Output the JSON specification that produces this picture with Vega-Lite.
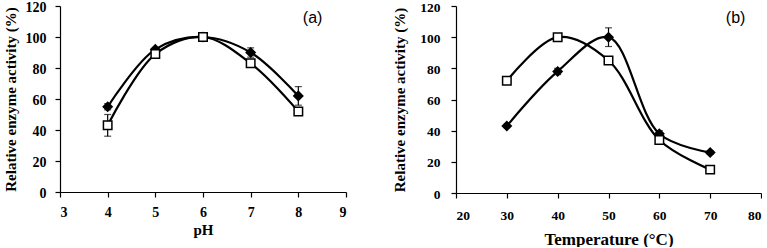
{
  "$schema": "https://vega.github.io/schema/vega-lite/v6.json",
  "background": "white",
  "padding": {"left": 2, "top": 0, "right": 0, "bottom": 0},
  "spacing": 110,
  "bounds": "flush",
  "config": {
    "view": {"stroke": null},
    "axis": {
      "grid": false,
      "domainColor": "black",
      "domainWidth": 1.2,
      "tickColor": "black",
      "tickWidth": 1.2,
      "tickSize": 5,
      "labelOverlap": false,
      "labelFont": "Liberation Serif",
      "labelFontWeight": "bold",
      "labelFontSize": 14,
      "labelColor": "black",
      "titleFont": "Liberation Serif",
      "titleFontWeight": "bold",
      "titleColor": "black"
    }
  },
  "datasets": {
    "ph": [
      {"x": 4, "y": 55, "lo": 53, "hi": 57, "s": "A"},
      {"x": 5, "y": 92, "lo": 91, "hi": 93, "s": "A"},
      {"x": 6, "y": 100, "lo": 100, "hi": 100, "s": "A"},
      {"x": 7, "y": 90, "lo": 87, "hi": 93, "s": "A"},
      {"x": 8, "y": 62, "lo": 56, "hi": 68, "s": "A"},
      {"x": 4, "y": 43, "lo": 36, "hi": 50, "s": "B"},
      {"x": 5, "y": 89, "lo": 88, "hi": 90, "s": "B"},
      {"x": 6, "y": 100, "lo": 100, "hi": 100, "s": "B"},
      {"x": 7, "y": 83, "lo": 82, "hi": 84, "s": "B"},
      {"x": 8, "y": 52, "lo": 51, "hi": 53, "s": "B"}
    ],
    "temp": [
      {"x": 30, "y": 43, "lo": 42, "hi": 44, "s": "A"},
      {"x": 40, "y": 78, "lo": 76, "hi": 80, "s": "A"},
      {"x": 50, "y": 100, "lo": 94, "hi": 106, "s": "A"},
      {"x": 60, "y": 38, "lo": 36, "hi": 40, "s": "A"},
      {"x": 70, "y": 26, "lo": 25, "hi": 27, "s": "A"},
      {"x": 30, "y": 72, "lo": 70, "hi": 74, "s": "B"},
      {"x": 40, "y": 100, "lo": 98, "hi": 102, "s": "B"},
      {"x": 50, "y": 85, "lo": 84, "hi": 86, "s": "B"},
      {"x": 60, "y": 34, "lo": 33, "hi": 35, "s": "B"},
      {"x": 70, "y": 15, "lo": 12.5, "hi": 17.5, "s": "B"}
    ],
    "labA": [{"x": 8.3, "y": 112.5, "t": "(a)"}],
    "labB": [{"x": 75, "y": 112, "t": "(b)"}]
  },
  "hconcat": [
    {
      "width": 286,
      "height": 186,
      "layer": [
        {
          "data": {"name": "ph"},
          "mark": {"type": "line", "interpolate": "catmull-rom", "color": "black", "strokeWidth": 2.2},
          "encoding": {
            "x": {"field": "x", "type": "quantitative", "scale": {"domain": [3, 9], "nice": false, "zero": false},
              "axis": {"values": [3, 4, 5, 6, 7, 8, 9], "tickCount": 7, "labelOverlap": false, "title": "pH", "titleFontSize": 15, "titleY": 37, "titleBaseline": "middle", "labelPadding": 8}},
            "y": {"field": "y", "type": "quantitative", "scale": {"domain": [0, 120], "nice": false},
              "axis": {"values": [0, 20, 40, 60, 80, 100, 120], "tickCount": 7, "labelOverlap": false, "labelOffset": 1, "title": "Relative enzyme activity (%)", "titleFontSize": 15, "titleX": -50, "titleBaseline": "middle", "labelPadding": 9}},
            "detail": {"field": "s"}
          }
        },
        {
          "data": {"name": "ph"},
          "transform": [{"filter": "datum.hi > datum.lo"}],
          "mark": {"type": "rule", "color": "black", "strokeWidth": 1.2},
          "encoding": {
            "x": {"field": "x", "type": "quantitative"},
            "y": {"field": "lo", "type": "quantitative"},
            "y2": {"field": "hi"}
          }
        },
        {
          "data": {"name": "ph"},
          "transform": [{"filter": "datum.hi > datum.lo"}],
          "mark": {"type": "tick", "orient": "horizontal", "color": "black", "size": 7, "thickness": 1.2},
          "encoding": {
            "x": {"field": "x", "type": "quantitative"},
            "y": {"field": "lo", "type": "quantitative"}
          }
        },
        {
          "data": {"name": "ph"},
          "transform": [{"filter": "datum.hi > datum.lo"}],
          "mark": {"type": "tick", "orient": "horizontal", "color": "black", "size": 7, "thickness": 1.2},
          "encoding": {
            "x": {"field": "x", "type": "quantitative"},
            "y": {"field": "hi", "type": "quantitative"}
          }
        },
        {
          "data": {"name": "ph"},
          "mark": {"type": "point", "filled": true, "stroke": "black", "strokeWidth": 1.5, "opacity": 1},
          "encoding": {
            "x": {"field": "x", "type": "quantitative"},
            "y": {"field": "y", "type": "quantitative"},
            "shape": {"field": "s", "type": "nominal", "scale": {"domain": ["A", "B"], "range": ["diamond", "square"]}, "legend": null},
            "fill": {"field": "s", "type": "nominal", "scale": {"domain": ["A", "B"], "range": ["black", "white"]}, "legend": null},
            "size": {"field": "s", "type": "nominal", "scale": {"domain": ["A", "B"], "range": [80, 72]}, "legend": null}
          }
        },
        {
          "data": {"name": "labA"},
          "mark": {"type": "text", "font": "Liberation Sans", "fontSize": 16, "color": "black", "baseline": "middle", "align": "center"},
          "encoding": {
            "x": {"field": "x", "type": "quantitative"},
            "y": {"field": "y", "type": "quantitative"},
            "text": {"field": "t"}
          }
        }
      ]
    },
    {
      "width": 305,
      "height": 187,
      "layer": [
        {
          "data": {"name": "temp"},
          "mark": {"type": "line", "interpolate": "catmull-rom", "color": "black", "strokeWidth": 2.2},
          "encoding": {
            "x": {"field": "x", "type": "quantitative", "scale": {"domain": [20, 80], "nice": false, "zero": false},
              "axis": {"values": [20, 30, 40, 50, 60, 70, 80], "tickCount": 7, "labelOverlap": false, "title": "Temperature (°C)", "titleFontSize": 17, "titleY": 46, "titleBaseline": "middle", "labelPadding": 10, "labelFontSize": 13.5}},
            "y": {"field": "y", "type": "quantitative", "scale": {"domain": [0, 120], "nice": false},
              "axis": {"values": [0, 20, 40, 60, 80, 100, 120], "tickCount": 7, "labelOverlap": false, "labelOffset": 1, "title": "Relative enzyme activity (%)", "titleFontSize": 15, "titleX": -57, "titleBaseline": "middle", "labelPadding": 11, "labelFontSize": 13.5}},
            "detail": {"field": "s"}
          }
        },
        {
          "data": {"name": "temp"},
          "transform": [{"filter": "datum.hi > datum.lo"}],
          "mark": {"type": "rule", "color": "black", "strokeWidth": 1.2},
          "encoding": {
            "x": {"field": "x", "type": "quantitative"},
            "y": {"field": "lo", "type": "quantitative"},
            "y2": {"field": "hi"}
          }
        },
        {
          "data": {"name": "temp"},
          "transform": [{"filter": "datum.hi > datum.lo"}],
          "mark": {"type": "tick", "orient": "horizontal", "color": "black", "size": 7, "thickness": 1.2},
          "encoding": {
            "x": {"field": "x", "type": "quantitative"},
            "y": {"field": "lo", "type": "quantitative"}
          }
        },
        {
          "data": {"name": "temp"},
          "transform": [{"filter": "datum.hi > datum.lo"}],
          "mark": {"type": "tick", "orient": "horizontal", "color": "black", "size": 7, "thickness": 1.2},
          "encoding": {
            "x": {"field": "x", "type": "quantitative"},
            "y": {"field": "hi", "type": "quantitative"}
          }
        },
        {
          "data": {"name": "temp"},
          "mark": {"type": "point", "filled": true, "stroke": "black", "strokeWidth": 1.5, "opacity": 1},
          "encoding": {
            "x": {"field": "x", "type": "quantitative"},
            "y": {"field": "y", "type": "quantitative"},
            "shape": {"field": "s", "type": "nominal", "scale": {"domain": ["A", "B"], "range": ["diamond", "square"]}, "legend": null},
            "fill": {"field": "s", "type": "nominal", "scale": {"domain": ["A", "B"], "range": ["black", "white"]}, "legend": null},
            "size": {"field": "s", "type": "nominal", "scale": {"domain": ["A", "B"], "range": [80, 72]}, "legend": null}
          }
        },
        {
          "data": {"name": "labB"},
          "mark": {"type": "text", "font": "Liberation Sans", "fontSize": 16, "color": "black", "baseline": "middle", "align": "center"},
          "encoding": {
            "x": {"field": "x", "type": "quantitative"},
            "y": {"field": "y", "type": "quantitative"},
            "text": {"field": "t"}
          }
        }
      ]
    }
  ]
}
